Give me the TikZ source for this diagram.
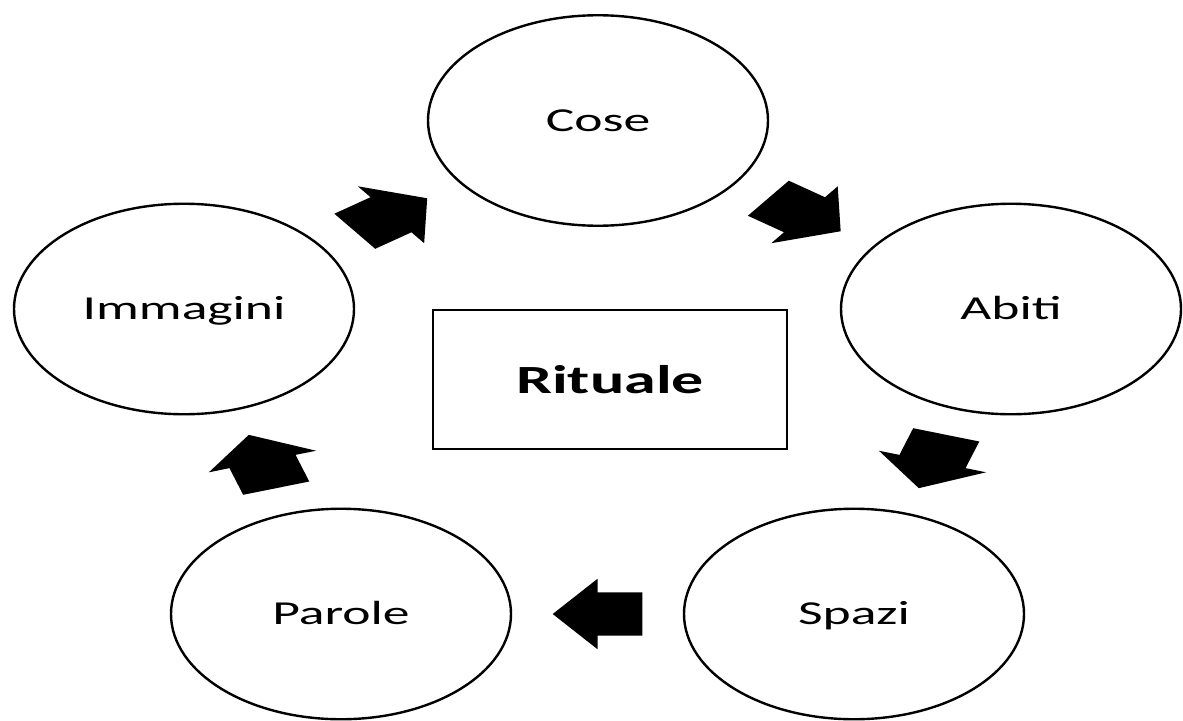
\documentclass[tikz,border=0pt]{standalone}
\usepackage{fontspec}
\setmainfont{Carlito}
\usetikzlibrary{shapes.geometric,calc}
\tikzset{
  stage/.style={ellipse, draw=black, line width=2.4pt, fill=white,
    minimum width=340pt, minimum height=210.5pt, inner sep=0pt,
    text height=21.6pt, text depth=0pt,
    font=\fontsize{33.5}{40}\selectfont},
  centerbox/.style={rectangle, draw=black, line width=2.4pt,
    minimum width=354pt, minimum height=139pt, inner sep=0pt,
    font=\fontsize{40}{48}\selectfont\bfseries},
  blockarrow/.style={fill=black, draw=none}
}
\newcommand{\stretchtext}[1]{\scalebox{1.6}[1]{#1}}
\newcommand{\blockarrowbetween}[3]{%
  \begin{scope}[shift={($(#1)!0.5!(#2)$)}, xscale=1.6, rotate=#3]
    \fill[blockarrow] (-28pt,-21.7pt) -- (0pt,-21.7pt) -- (0pt,-35.2pt) -- (28pt,0pt)
      -- (0pt,35.2pt) -- (0pt,21.7pt) -- (-28pt,21.7pt) -- cycle;
  \end{scope}}
\begin{document}
\begin{tikzpicture}[x=1pt, y=-1pt]
  \useasboundingbox[fill=white] (0,0) rectangle (1183,720);
  \node[stage] (cose)   at (598,120.5) {\stretchtext{Cose}};
  \node[stage] (abiti)  at (1011,309)  {\stretchtext{Abiti}};
  \node[stage] (imm)    at (184,309)   {\stretchtext{Immagini}};
  \node[stage] (parole) at (341,614)   {\stretchtext{Parole}};
  \node[stage] (spazi)  at (854,614)   {\stretchtext{Spazi}};
  \node[centerbox] (rituale) at (610,379.5) {\stretchtext{Rituale}};
  \blockarrowbetween{imm}{cose}{36.07}
  \blockarrowbetween{cose}{abiti}{-36.14}
  \blockarrowbetween{abiti}{spazi}{-107.83}
  \blockarrowbetween{spazi}{parole}{180}
  \blockarrowbetween{parole}{imm}{107.83}
\end{tikzpicture}
\end{document}
